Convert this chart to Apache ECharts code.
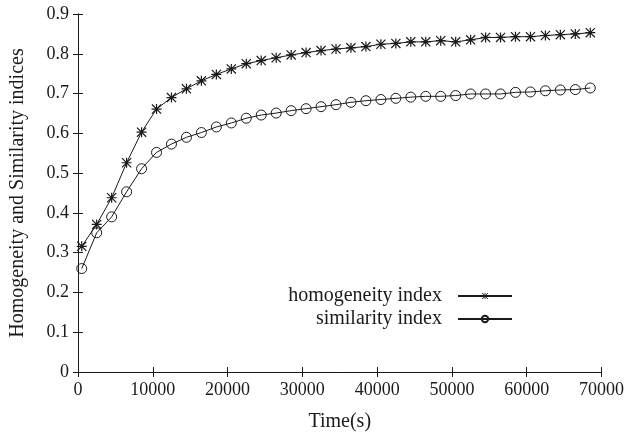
<!DOCTYPE html>
<html>
<head>
<meta charset="utf-8">
<script src="https://cdn.jsdelivr.net/npm/echarts@6/dist/echarts.min.js"></script>
<style>
  html, body { margin: 0; padding: 0; background: #fff; }
  #chart { width: 627px; height: 437px; }
</style>
</head>
<body>
<div id="chart"></div>
<script>
// Sampling times (s)
const times = [500, 2500, 4500, 6500, 8500, 10500, 12500, 14500, 16500, 18500,
  20500, 22500, 24500, 26500, 28500, 30500, 32500, 34500, 36500, 38500,
  40500, 42500, 44500, 46500, 48500, 50500, 52500, 54500, 56500, 58500,
  60500, 62500, 64500, 66500, 68500];

// Homogeneity index at each sampling time
const homogeneity = [0.316, 0.371, 0.438, 0.526, 0.603, 0.661, 0.690, 0.712, 0.732, 0.748,
  0.762, 0.775, 0.783, 0.790, 0.797, 0.803, 0.808, 0.812, 0.815, 0.818,
  0.824, 0.826, 0.830, 0.830, 0.833, 0.830, 0.835, 0.841, 0.841, 0.843,
  0.843, 0.846, 0.848, 0.850, 0.853];

// Similarity index at each sampling time
const similarity = [0.260, 0.350, 0.390, 0.453, 0.511, 0.552, 0.573, 0.590, 0.602, 0.616,
  0.626, 0.638, 0.646, 0.651, 0.657, 0.662, 0.667, 0.672, 0.678, 0.682,
  0.685, 0.688, 0.691, 0.693, 0.693, 0.695, 0.699, 0.699, 0.699, 0.703,
  0.704, 0.707, 0.709, 0.710, 0.714];

const seriesNames = ['homogeneity index', 'similarity index'];
const xTitle = 'Time(s)';
const yTitle = 'Homogeneity and Similarity indices';

const FONT = '"Liberation Serif", "Times New Roman", serif';
const INK = '#1a1a1a';

// Asterisk marker: plus and cross built from thin filled bars (same winding)
const STAR = 'path://' +
  'M4.4 0L5.6 0L5.6 10L4.4 10Z' +
  'M0 4.4L10 4.4L10 5.6L0 5.6Z' +
  'M0.85 0L10 9.15L9.15 10L0 0.85Z' +
  'M9.15 0L10 0.85L0.85 10L0 9.15Z';

function pairs(ys) { return times.map((t, i) => [t, ys[i]]); }

const xCommon = { type: 'value', min: 0, max: 70000, interval: 10000 };
const yCommon = { type: 'value', min: 0, max: 0.9, interval: 0.1 };
const lineAxis = { show: true, lineStyle: { color: INK, width: 1 } };
const tickIn = { show: true, inside: true, length: 5, lineStyle: { color: INK, width: 1 } };

const chart = echarts.init(document.getElementById('chart'), null, { renderer: 'canvas' });

chart.setOption({
  backgroundColor: '#fff',
  animation: false,
  grid: { left: 76, right: 23, top: 14, bottom: 64, containLabel: false },
  xAxis: [
    Object.assign({}, xCommon, {
      position: 'bottom',
      name: xTitle, nameLocation: 'middle', nameGap: 40,
      nameTextStyle: { fontFamily: FONT, fontSize: 20, color: INK },
      axisLine: lineAxis, axisTick: tickIn, splitLine: { show: false },
      axisLabel: { fontFamily: FONT, fontSize: 18, color: INK, margin: 9,
        formatter: v => String(v) }
    }),
    Object.assign({}, xCommon, {
      position: 'top',
      axisLine: lineAxis, axisTick: tickIn, splitLine: { show: false },
      axisLabel: { show: false }
    })
  ],
  yAxis: [
    Object.assign({}, yCommon, {
      position: 'left',
      name: yTitle, nameLocation: 'middle', nameGap: 50,
      nameTextStyle: { fontFamily: FONT, fontSize: 20, color: INK },
      axisLine: lineAxis, axisTick: tickIn, splitLine: { show: false },
      axisLabel: { fontFamily: FONT, fontSize: 18, color: INK, margin: 9 }
    }),
    Object.assign({}, yCommon, {
      position: 'right',
      axisLine: lineAxis, axisTick: tickIn, splitLine: { show: false },
      axisLabel: { show: false }
    })
  ],
  legend: [
    {
      data: [seriesNames[0]], align: 'right', right: 114, top: 286,
      padding: 0, itemWidth: 54, itemHeight: 8, selectedMode: false,
      textStyle: { fontFamily: FONT, fontSize: 20, color: INK, padding: [0, 11, 0, 0] }
    },
    {
      data: [seriesNames[1]], align: 'right', right: 114, top: 309,
      padding: 0, itemWidth: 54, itemHeight: 8, selectedMode: false,
      textStyle: { fontFamily: FONT, fontSize: 20, color: INK, padding: [0, 11, 0, 0] }
    }
  ],
  series: [
    {
      name: seriesNames[0], type: 'line', data: pairs(homogeneity),
      symbol: STAR, symbolSize: 10, showAllSymbol: true,
      lineStyle: { color: INK, width: 1 },
      itemStyle: { color: INK, borderWidth: 0 }
    },
    {
      name: seriesNames[1], type: 'line', data: pairs(similarity),
      symbol: 'circle', symbolSize: 10, showAllSymbol: true,
      lineStyle: { color: INK, width: 1 },
      itemStyle: { color: 'rgba(0,0,0,0)', borderColor: INK, borderWidth: 1 }
    }
  ]
});
</script>
</body>
</html>
